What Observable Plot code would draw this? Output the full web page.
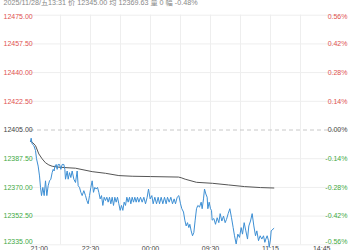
<!DOCTYPE html>
<html><head><meta charset="utf-8">
<script src="https://cdn.jsdelivr.net/npm/d3@7"></script>
<script src="https://cdn.jsdelivr.net/npm/@observablehq/plot@0.6"></script>
<style>body{margin:0;background:#fff} svg{display:block}</style>
</head><body><div id="chart"></div>
<script>
const headerText = "2025/11/28/五13:31 价 12345.00 均 12369.63 量 0 幅 -0.48%";
const prevClose = 12405;
const priceTicks = [12335, 12352.5, 12370, 12387.5, 12405, 12422.5, 12440, 12457.5, 12475];
const timeTickMinutes = [0, 90, 180, 270, 360, 450];
const timeTickLabels = ["21:00", "22:30", "00:00", "09:30", "11:15", "14:45"];
const gridMinutes = [45, 90, 135, 180, 225, 270, 315, 360, 405];

const priceMinutes = [0, 1, 2.5, 5, 7.5, 9, 11.5, 13.5, 15, 16.5, 18.5, 20.5, 22.5, 24.5, 26.5, 28.5, 30.5, 32.5, 34, 35.5, 36.5, 38.5, 40, 41.5, 43.5, 45.5, 47.5, 50, 51.5, 52.5, 55, 56.5, 58.5, 60.5, 62.5, 65, 67.5, 70, 71.5, 73.5, 75.5, 77.5, 80, 82.5, 84.5, 86.5, 88.5, 90.5, 92.5, 94.5, 96.5, 98.5, 100.5, 102.5, 104.5, 106.5, 108.5, 110.5, 112.5, 114.5, 116.5, 118.5, 120.5, 122.5, 124.5, 126.5, 128.5, 130.5, 132.5, 134.5, 136.5, 138.5, 140.5, 142.5, 144.5, 146.5, 148.5, 150.5, 152.5, 154.5, 156.5, 158.5, 160.5, 162.5, 165, 167.5, 170, 172.5, 175, 177, 179.5, 182, 184, 186.5, 189, 191.5, 193.5, 196, 198.5, 201, 203.5, 205.5, 208, 210.5, 213, 215.5, 217.5, 220, 222.5, 225, 227, 229.5, 231.5, 233.5, 235.5, 237.5, 239, 241, 243, 245, 247, 249, 251, 253.5, 256, 257.5, 259.5, 261, 263, 265, 266, 268, 270, 271.5, 272.5, 275, 277.5, 280, 282.5, 284.5, 287, 289.5, 292, 294, 296.5, 299, 301.5, 304, 306, 308.5, 311, 313.5, 316, 318, 320.5, 323, 325.5, 327.5, 330, 332.5, 335, 337.5, 339.5, 342, 344.5, 347, 349.5, 351.5, 353, 355, 357, 358, 360, 361, 365];
const priceValues = [12398, 12400, 12396.5, 12395.5, 12392.5, 12387.5, 12383, 12377, 12370, 12365, 12370, 12365, 12374, 12365, 12371, 12374, 12375, 12379, 12381, 12380, 12383, 12384, 12381, 12384, 12384, 12381, 12384, 12384, 12381, 12375, 12380, 12375, 12379, 12376, 12380, 12375, 12373, 12380, 12371, 12370, 12367, 12365, 12368, 12365, 12362, 12360, 12365, 12370, 12374, 12367, 12370, 12369, 12370, 12367, 12363, 12365, 12359, 12364, 12362, 12364, 12361, 12364, 12360, 12364, 12359, 12364, 12361, 12364, 12360, 12356, 12359, 12356, 12361, 12359, 12364, 12361, 12364, 12360, 12364, 12361, 12364, 12361, 12364, 12361, 12364, 12361, 12364, 12360, 12364, 12369, 12363, 12365, 12360, 12364, 12360, 12364, 12360, 12364, 12360, 12364, 12360, 12364, 12361, 12364, 12360, 12363, 12360, 12364, 12365, 12360, 12357, 12355, 12350, 12346.5, 12348.5, 12345.5, 12347.5, 12343.5, 12340.5, 12342.5, 12350, 12357, 12359, 12358, 12361, 12357, 12363, 12369, 12366, 12364, 12357, 12361, 12357, 12356, 12350, 12351, 12347.5, 12351.5, 12348.5, 12354, 12349.5, 12352.5, 12348.5, 12350.5, 12354, 12357, 12351.5, 12345.5, 12340.5, 12335.5, 12341.5, 12339.5, 12345.5, 12341.5, 12348.5, 12343.5, 12338.5, 12346.5, 12349.5, 12354, 12346.5, 12340.5, 12343.5, 12337.5, 12340.5, 12338.5, 12340.5, 12336.5, 12338.5, 12340.5, 12337.5, 12333.5, 12338.5, 12343.5, 12345];

const avgMinutes = [0, 2.5, 7.5, 12.5, 17.5, 22.5, 27.5, 32.5, 42.5, 67.5, 92.5, 112.5, 132.5, 152.5, 180, 222, 226, 232, 249, 273, 297, 321, 345, 365];
const avgValues = [12398, 12397.6, 12395.5, 12390.4, 12387.4, 12385, 12383.7, 12382.9, 12382.3, 12381.7, 12379.6, 12378.6, 12377.2, 12376.8, 12376.6, 12376.3, 12375.9, 12375, 12373.1, 12372.5, 12371.5, 12370.5, 12369.9, 12369.63];

const price = priceMinutes.map((m, i) => ({m, v: priceValues[i]}));
const avg = avgMinutes.map((m, i) => ({m, v: avgValues[i]}));
const ticks = timeTickMinutes.map((m, i) => ({m, label: timeTickLabels[i]}));

const red = "#e0524f", green = "#3fa93f", dark = "#444";
const fmtPct = v => ((v - prevClose) / prevClose * 100).toFixed(2) + "%";
const topTick = priceTicks[priceTicks.length - 1], bottomTick = priceTicks[0];

function leftLabels(filter, fill, dy) {
  return Plot.text(priceTicks.filter(filter), {y: d => d, text: d => d.toFixed(2), frameAnchor: "left", dx: -27, dy, textAnchor: "start", fill, fontSize: 7});
}
function rightLabels(filter, fill, dy) {
  return Plot.text(priceTicks.filter(filter), {y: d => d, text: fmtPct, frameAnchor: "right", dx: 7, dy, textAnchor: "end", fill, fontSize: 7});
}

const chart = Plot.plot({
  width: 350, height: 250,
  marginLeft: 30, marginRight: 10, marginTop: 14.7, marginBottom: 5.7,
  style: {fontFamily: "'Liberation Sans', Arial, 'Noto Sans CJK SC', sans-serif", background: "#fff"},
  x: {domain: [0, 465], axis: null},
  y: {domain: [bottomTick, topTick], axis: null},
  marks: [
    Plot.ruleY(priceTicks.filter(d => d !== prevClose), {stroke: "#eeeeee", strokeWidth: 1}),
    Plot.ruleX(gridMinutes, {stroke: "#eeeeee", strokeWidth: 1}),
    Plot.ruleY([prevClose], {stroke: "#c8c8c8", strokeDasharray: "4,3"}),
    Plot.line(avg, {x: "m", y: "v", stroke: "#555", strokeWidth: 1}),
    Plot.line(price, {x: "m", y: "v", stroke: "#3d8fd4", strokeWidth: 1}),
    leftLabels(d => d > prevClose && d !== topTick, red, 0),
    leftLabels(d => d === topTick, red, 2),
    leftLabels(d => d === prevClose, dark, 0),
    leftLabels(d => d < prevClose && d !== bottomTick, green, 0),
    leftLabels(d => d === bottomTick, green, -3),
    rightLabels(d => d > prevClose && d !== topTick, red, 0),
    rightLabels(d => d === topTick, red, 2),
    rightLabels(d => d === prevClose, dark, 0),
    rightLabels(d => d < prevClose && d !== bottomTick, green, 0),
    rightLabels(d => d === bottomTick, green, -3),
    Plot.text(ticks.slice(0, 1), {x: "m", text: "label", frameAnchor: "bottom", dy: 6, textAnchor: "start", fill: "#444", fontSize: 7}),
    Plot.text(ticks.slice(1, -1), {x: "m", text: "label", frameAnchor: "bottom", dy: 6, textAnchor: "middle", fill: "#444", fontSize: 7}),
    Plot.text(ticks.slice(-1), {x: "m", text: "label", frameAnchor: "bottom", dy: 6, textAnchor: "end", fill: "#444", fontSize: 7}),
    Plot.text([headerText], {text: d => d, frameAnchor: "top-left", dx: -27, dy: -15.5, textAnchor: "start", fill: "#888", fontSize: 7.2})
  ]
});
document.getElementById("chart").append(chart);
</script></body></html>
